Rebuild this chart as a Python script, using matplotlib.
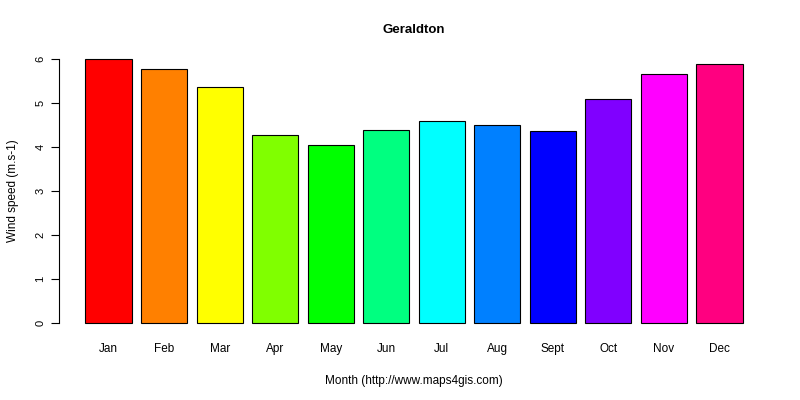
import matplotlib
matplotlib.use("Agg")
import matplotlib.pyplot as plt
import numpy as np

plt.rcParams["font.family"] = "Liberation Sans"

months = ["Jan", "Feb", "Mar", "Apr", "May", "Jun", "Jul", "Aug", "Sept", "Oct", "Nov", "Dec"]
wind = [6.0, 5.77, 5.36, 4.27, 4.05, 4.39, 4.59, 4.5, 4.36, 5.09, 5.66, 5.89]
colors = ["#FF0000", "#FF8000", "#FFFF00", "#80FF00", "#00FF00", "#00FF80",
          "#00FFFF", "#0080FF", "#0000FF", "#8000FF", "#FF00FF", "#FF0080"]
yticks = [0, 1, 2, 3, 4, 5, 6]

fig = plt.figure(figsize=(8, 4), dpi=100)
ax = fig.add_axes([0.074, 0.166, 0.887, 0.713])

# R barplot layout: width 1, space 0.2
x = 0.7 + 1.2 * np.arange(len(months))
ax.bar(x, wind, width=1.0, color=colors, edgecolor="black", linewidth=0.8)
ax.set_xlim(0.2 - 0.568, 14.4 + 0.568)
ax.set_ylim(-0.24, 6.24)

for s in ["top", "right", "bottom"]:
    ax.spines[s].set_visible(False)
ax.spines["left"].set_bounds(0, 6)
ax.set_yticks(yticks)
ax.set_yticklabels([str(t) for t in yticks], rotation=90, va="center", fontsize=8)
ax.tick_params(axis="y", length=6, pad=4)
ax.set_xticks(x)
ax.set_xticklabels(months, fontsize=8.5)
ax.tick_params(axis="x", length=0, pad=7)

ax.set_title("Geraldton", fontsize=9.5, fontweight="bold", pad=11)
ax.set_xlabel("Month (http://www.maps4gis.com)", fontsize=8.5, labelpad=14)
ax.set_ylabel("Wind speed (m.s-1)", fontsize=8.5, labelpad=12)

fig.savefig("out.png", dpi=100)
